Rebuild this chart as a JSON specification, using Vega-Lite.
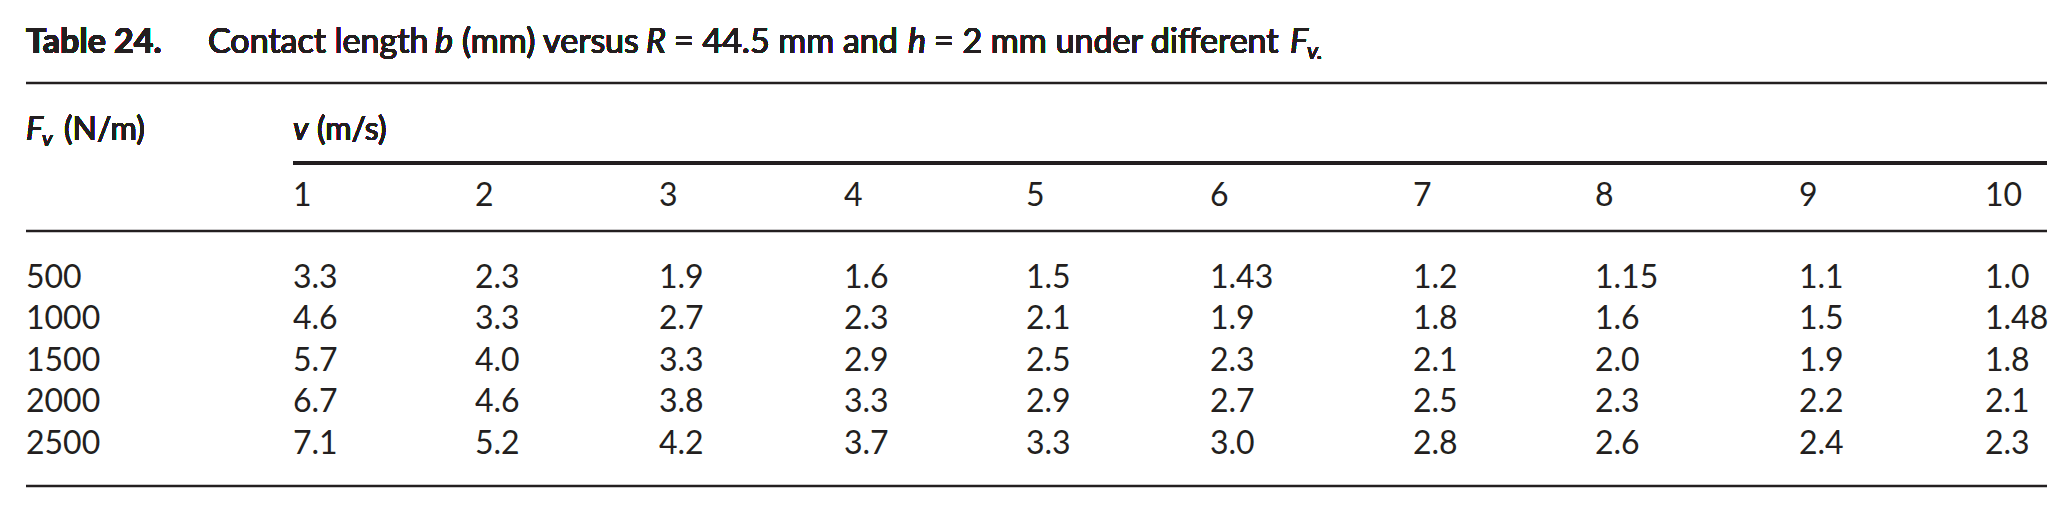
{
  "$schema": "https://vega.github.io/schema/vega-lite/v6.json",
  "description": "Table 24. Contact length b (mm) versus R = 44.5 mm and h = 2 mm under different Fv.",
  "width": 2021,
  "height": 512,
  "autosize": {"type": "none"},
  "padding": {"left": 26, "right": 25, "top": 0, "bottom": 0},
  "background": "white",
  "datasets": {
    "cells": [
      {"line": 3, "Fv": 500, "v": 1, "b": "3.3"},
      {"line": 3, "Fv": 500, "v": 2, "b": "2.3"},
      {"line": 3, "Fv": 500, "v": 3, "b": "1.9"},
      {"line": 3, "Fv": 500, "v": 4, "b": "1.6"},
      {"line": 3, "Fv": 500, "v": 5, "b": "1.5"},
      {"line": 3, "Fv": 500, "v": 6, "b": "1.43"},
      {"line": 3, "Fv": 500, "v": 7, "b": "1.2"},
      {"line": 3, "Fv": 500, "v": 8, "b": "1.15"},
      {"line": 3, "Fv": 500, "v": 9, "b": "1.1"},
      {"line": 3, "Fv": 500, "v": 10, "b": "1.0"},
      {"line": 4, "Fv": 1000, "v": 1, "b": "4.6"},
      {"line": 4, "Fv": 1000, "v": 2, "b": "3.3"},
      {"line": 4, "Fv": 1000, "v": 3, "b": "2.7"},
      {"line": 4, "Fv": 1000, "v": 4, "b": "2.3"},
      {"line": 4, "Fv": 1000, "v": 5, "b": "2.1"},
      {"line": 4, "Fv": 1000, "v": 6, "b": "1.9"},
      {"line": 4, "Fv": 1000, "v": 7, "b": "1.8"},
      {"line": 4, "Fv": 1000, "v": 8, "b": "1.6"},
      {"line": 4, "Fv": 1000, "v": 9, "b": "1.5"},
      {"line": 4, "Fv": 1000, "v": 10, "b": "1.48"},
      {"line": 5, "Fv": 1500, "v": 1, "b": "5.7"},
      {"line": 5, "Fv": 1500, "v": 2, "b": "4.0"},
      {"line": 5, "Fv": 1500, "v": 3, "b": "3.3"},
      {"line": 5, "Fv": 1500, "v": 4, "b": "2.9"},
      {"line": 5, "Fv": 1500, "v": 5, "b": "2.5"},
      {"line": 5, "Fv": 1500, "v": 6, "b": "2.3"},
      {"line": 5, "Fv": 1500, "v": 7, "b": "2.1"},
      {"line": 5, "Fv": 1500, "v": 8, "b": "2.0"},
      {"line": 5, "Fv": 1500, "v": 9, "b": "1.9"},
      {"line": 5, "Fv": 1500, "v": 10, "b": "1.8"},
      {"line": 6, "Fv": 2000, "v": 1, "b": "6.7"},
      {"line": 6, "Fv": 2000, "v": 2, "b": "4.6"},
      {"line": 6, "Fv": 2000, "v": 3, "b": "3.8"},
      {"line": 6, "Fv": 2000, "v": 4, "b": "3.3"},
      {"line": 6, "Fv": 2000, "v": 5, "b": "2.9"},
      {"line": 6, "Fv": 2000, "v": 6, "b": "2.7"},
      {"line": 6, "Fv": 2000, "v": 7, "b": "2.5"},
      {"line": 6, "Fv": 2000, "v": 8, "b": "2.3"},
      {"line": 6, "Fv": 2000, "v": 9, "b": "2.2"},
      {"line": 6, "Fv": 2000, "v": 10, "b": "2.1"},
      {"line": 7, "Fv": 2500, "v": 1, "b": "7.1"},
      {"line": 7, "Fv": 2500, "v": 2, "b": "5.2"},
      {"line": 7, "Fv": 2500, "v": 3, "b": "4.2"},
      {"line": 7, "Fv": 2500, "v": 4, "b": "3.7"},
      {"line": 7, "Fv": 2500, "v": 5, "b": "3.3"},
      {"line": 7, "Fv": 2500, "v": 6, "b": "3.0"},
      {"line": 7, "Fv": 2500, "v": 7, "b": "2.8"},
      {"line": 7, "Fv": 2500, "v": 8, "b": "2.6"},
      {"line": 7, "Fv": 2500, "v": 9, "b": "2.4"},
      {"line": 7, "Fv": 2500, "v": 10, "b": "2.3"}
    ],
    "speeds": [
      {"v": 1}, {"v": 2}, {"v": 3}, {"v": 4}, {"v": 5},
      {"v": 6}, {"v": 7}, {"v": 8}, {"v": 9}, {"v": 10}
    ],
    "rules": [{"line": 0.5}, {"line": 2.5}, {"line": 7.5}]
  },
  "data": {"name": "cells"},
  "layer": [
    {
      "data": {"name": "rules"},
      "mark": {"type": "rule", "color": "#231f20", "strokeWidth": 2.5},
      "encoding": {
        "y": {"field": "line", "type": "quantitative", "axis": null,
              "scale": {"domain": [0, 0.5, 1, 1.5, 2, 2.5, 3, 4, 5, 6, 7, 7.5], "range": [53, 83, 140, 163, 206, 231, 288, 329, 371, 412, 454, 486], "zero": false, "nice": false}}
      }
    },
    {
      "mark": {"type": "rule", "color": "#231f20", "strokeWidth": 2.5},
      "encoding": {
        "x": {"datum": 1, "type": "quantitative", "axis": null,
              "scale": {"domain": [0, 1, 2, 3, 4, 5, 6, 7, 8, 9, 10], "range": [0, 267, 449, 633, 818, 1000, 1184, 1387, 1569, 1773, 1959], "zero": false, "nice": false}},
        "x2": {"value": "width"},
        "y": {"datum": 1.5, "type": "quantitative", "axis": null}
      }
    },
    {
      "mark": {"type": "text", "align": "left", "baseline": "alphabetic", "font": "Lato", "fontSize": 34, "fontWeight": "bold", "color": "#231f20"},
      "encoding": {
        "x": {"datum": 0, "type": "quantitative", "axis": null},
        "y": {"datum": 0, "type": "quantitative", "axis": null},
        "text": {"value": "Table 24."}
      }
    },
    {
      "mark": {"type": "text", "align": "left", "baseline": "alphabetic", "font": "Lato", "fontSize": 34, "dx": 182, "color": "#231f20"},
      "encoding": {
        "x": {"datum": 0, "type": "quantitative", "axis": null},
        "y": {"datum": 0, "type": "quantitative", "axis": null},
        "text": {"value": "Contact length"}
      }
    },
    {
      "mark": {"type": "text", "align": "left", "baseline": "alphabetic", "font": "Lato", "fontSize": 34, "fontStyle": "italic", "dx": 409, "color": "#231f20"},
      "encoding": {
        "x": {"datum": 0, "type": "quantitative", "axis": null},
        "y": {"datum": 0, "type": "quantitative", "axis": null},
        "text": {"value": "b"}
      }
    },
    {
      "mark": {"type": "text", "align": "left", "baseline": "alphabetic", "font": "Lato", "fontSize": 34, "dx": 436, "color": "#231f20"},
      "encoding": {
        "x": {"datum": 0, "type": "quantitative", "axis": null},
        "y": {"datum": 0, "type": "quantitative", "axis": null},
        "text": {"value": "(mm) versus"}
      }
    },
    {
      "mark": {"type": "text", "align": "left", "baseline": "alphabetic", "font": "Lato", "fontSize": 34, "fontStyle": "italic", "dx": 620, "color": "#231f20"},
      "encoding": {
        "x": {"datum": 0, "type": "quantitative", "axis": null},
        "y": {"datum": 0, "type": "quantitative", "axis": null},
        "text": {"value": "R"}
      }
    },
    {
      "mark": {"type": "text", "align": "left", "baseline": "alphabetic", "font": "Lato", "fontSize": 34, "dx": 648, "color": "#231f20"},
      "encoding": {
        "x": {"datum": 0, "type": "quantitative", "axis": null},
        "y": {"datum": 0, "type": "quantitative", "axis": null},
        "text": {"value": "= 44.5 mm and"}
      }
    },
    {
      "mark": {"type": "text", "align": "left", "baseline": "alphabetic", "font": "Lato", "fontSize": 34, "fontStyle": "italic", "dx": 882, "color": "#231f20"},
      "encoding": {
        "x": {"datum": 0, "type": "quantitative", "axis": null},
        "y": {"datum": 0, "type": "quantitative", "axis": null},
        "text": {"value": "h"}
      }
    },
    {
      "mark": {"type": "text", "align": "left", "baseline": "alphabetic", "font": "Lato", "fontSize": 34, "dx": 908, "color": "#231f20"},
      "encoding": {
        "x": {"datum": 0, "type": "quantitative", "axis": null},
        "y": {"datum": 0, "type": "quantitative", "axis": null},
        "text": {"value": "= 2 mm under different"}
      }
    },
    {
      "mark": {"type": "text", "align": "left", "baseline": "alphabetic", "font": "Lato", "fontSize": 34, "fontStyle": "italic", "dx": 1264, "color": "#231f20"},
      "encoding": {
        "x": {"datum": 0, "type": "quantitative", "axis": null},
        "y": {"datum": 0, "type": "quantitative", "axis": null},
        "text": {"value": "F"}
      }
    },
    {
      "mark": {"type": "text", "align": "left", "baseline": "alphabetic", "font": "Lato", "fontSize": 23, "fontStyle": "italic", "dx": 1281, "dy": 6, "color": "#231f20"},
      "encoding": {
        "x": {"datum": 0, "type": "quantitative", "axis": null},
        "y": {"datum": 0, "type": "quantitative", "axis": null},
        "text": {"value": "v."}
      }
    },
    {
      "mark": {"type": "text", "align": "left", "baseline": "alphabetic", "font": "Lato", "fontSize": 32, "fontStyle": "italic", "color": "#231f20"},
      "encoding": {
        "x": {"datum": 0, "type": "quantitative", "axis": null},
        "y": {"datum": 1, "type": "quantitative", "axis": null},
        "text": {"value": "F"}
      }
    },
    {
      "mark": {"type": "text", "align": "left", "baseline": "alphabetic", "font": "Lato", "fontSize": 22, "fontStyle": "italic", "dx": 16, "dy": 6, "color": "#231f20"},
      "encoding": {
        "x": {"datum": 0, "type": "quantitative", "axis": null},
        "y": {"datum": 1, "type": "quantitative", "axis": null},
        "text": {"value": "v"}
      }
    },
    {
      "mark": {"type": "text", "align": "left", "baseline": "alphabetic", "font": "Lato", "fontSize": 32, "dx": 38, "color": "#231f20"},
      "encoding": {
        "x": {"datum": 0, "type": "quantitative", "axis": null},
        "y": {"datum": 1, "type": "quantitative", "axis": null},
        "text": {"value": "(N/m)"}
      }
    },
    {
      "mark": {"type": "text", "align": "left", "baseline": "alphabetic", "font": "Lato", "fontSize": 32, "fontStyle": "italic", "color": "#231f20"},
      "encoding": {
        "x": {"datum": 1, "type": "quantitative", "axis": null},
        "y": {"datum": 1, "type": "quantitative", "axis": null},
        "text": {"value": "v"}
      }
    },
    {
      "mark": {"type": "text", "align": "left", "baseline": "alphabetic", "font": "Lato", "fontSize": 32, "dx": 24, "color": "#231f20"},
      "encoding": {
        "x": {"datum": 1, "type": "quantitative", "axis": null},
        "y": {"datum": 1, "type": "quantitative", "axis": null},
        "text": {"value": "(m/s)"}
      }
    },
    {
      "data": {"name": "speeds"},
      "mark": {"type": "text", "align": "left", "baseline": "alphabetic", "font": "Lato", "fontSize": 32, "color": "#231f20"},
      "encoding": {
        "x": {"field": "v", "type": "quantitative", "axis": null},
        "y": {"datum": 2, "type": "quantitative", "axis": null},
        "text": {"field": "v", "type": "nominal"}
      }
    },
    {
      "transform": [{"filter": "datum.v == 1"}],
      "mark": {"type": "text", "align": "left", "baseline": "alphabetic", "font": "Lato", "fontSize": 32, "color": "#231f20"},
      "encoding": {
        "x": {"datum": 0, "type": "quantitative", "axis": null},
        "y": {"field": "line", "type": "quantitative", "axis": null},
        "text": {"field": "Fv", "type": "nominal"}
      }
    },
    {
      "mark": {"type": "text", "align": "left", "baseline": "alphabetic", "font": "Lato", "fontSize": 32, "color": "#231f20"},
      "encoding": {
        "x": {"field": "v", "type": "quantitative", "axis": null},
        "y": {"field": "line", "type": "quantitative", "axis": null},
        "text": {"field": "b", "type": "nominal"}
      }
    }
  ],
  "config": {"view": {"stroke": null}}
}
